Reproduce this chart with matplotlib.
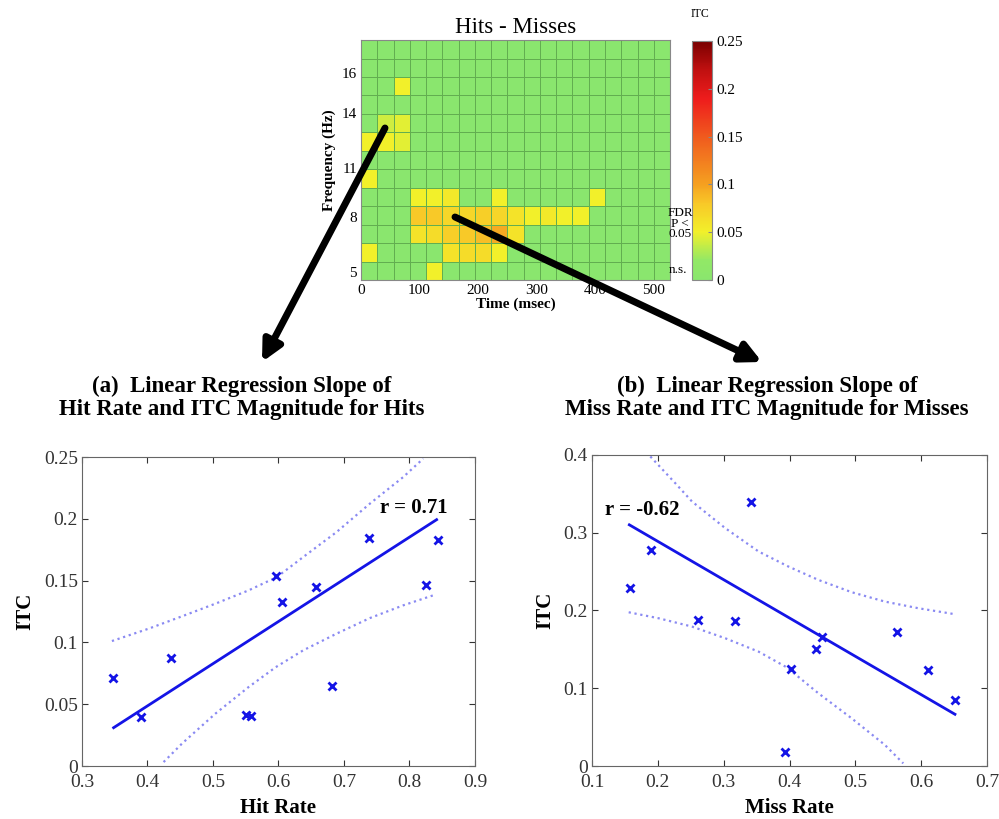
import numpy as np
import matplotlib
matplotlib.use('Agg')
import matplotlib.pyplot as plt
from matplotlib.colors import LinearSegmentedColormap

plt.rcParams['font.family'] = ['Liberation Serif', 'DejaVu Serif']

# ---- data ----
# Hits - Misses ITC map, rows from top (high freq) to bottom (low freq), 19 time bins
itc_map = np.array([
    [0, 0, 0, 0, 0, 0, 0, 0, 0, 0, 0, 0, 0, 0, 0, 0, 0, 0, 0],
    [0, 0, 0, 0, 0, 0, 0, 0, 0, 0, 0, 0, 0, 0, 0, 0, 0, 0, 0],
    [0, 0, .05, 0, 0, 0, 0, 0, 0, 0, 0, 0, 0, 0, 0, 0, 0, 0, 0],
    [0, 0, 0, 0, 0, 0, 0, 0, 0, 0, 0, 0, 0, 0, 0, 0, 0, 0, 0],
    [0, .04, .045, 0, 0, 0, 0, 0, 0, 0, 0, 0, 0, 0, 0, 0, 0, 0, 0],
    [.05, .05, .045, 0, 0, 0, 0, 0, 0, 0, 0, 0, 0, 0, 0, 0, 0, 0, 0],
    [0, 0, 0, 0, 0, 0, 0, 0, 0, 0, 0, 0, 0, 0, 0, 0, 0, 0, 0],
    [.05, 0, 0, 0, 0, 0, 0, 0, 0, 0, 0, 0, 0, 0, 0, 0, 0, 0, 0],
    [0, 0, 0, .05, .05, .055, 0, 0, .05, 0, 0, 0, 0, 0, .05, 0, 0, 0, 0],
    [0, 0, 0, .08, .08, .07, .07, .075, .07, .06, .05, .055, .05, .05, 0, 0, 0, 0, 0],
    [0, 0, 0, .06, .065, .075, .08, .085, .095, .06, 0, 0, 0, 0, 0, 0, 0, 0, 0],
    [.05, 0, 0, 0, 0, .06, .065, .065, .05, 0, 0, 0, 0, 0, 0, 0, 0, 0, 0],
    [0, 0, 0, 0, .05, 0, 0, 0, 0, 0, 0, 0, 0, 0, 0, 0, 0, 0, 0],
])
time_max = 528
freq_ticks = [0.43, 3.41, 6.07, 9.05, 11.2]
freq_labels = ['5', '8', '11', '14', '16']
time_ticks = [0, 100, 200, 300, 400, 500]
cbar_ticks = [0, 0.05, 0.1, 0.15, 0.2, 0.25]
cbar_labels = ['0', '0.05', '0.1', '0.15', '0.2', '0.25']

# (a) hits
hit_rate = [0.348, 0.390, 0.436, 0.550, 0.558, 0.597, 0.606, 0.658, 0.682, 0.738, 0.826, 0.843]
itc_hits = [0.0715, 0.0394, 0.0877, 0.0413, 0.0405, 0.1539, 0.1323, 0.145, 0.0651, 0.1841, 0.1463, 0.1828]
fit_a_x = [0.3484, 0.8415]
fit_a_y = [0.031, 0.1993]
up_a_x = [0.3458, 0.4018, 0.4527, 0.5036, 0.5545, 0.5978, 0.6379, 0.6888, 0.7397, 0.7906, 0.8211]
up_a_y = [0.1011, 0.1111, 0.1211, 0.1313, 0.1421, 0.1529, 0.1691, 0.1893, 0.2123, 0.2338, 0.2487]
lo_a_x = [0.4247, 0.4527, 0.5036, 0.5545, 0.5960, 0.6379, 0.6888, 0.7397, 0.7906, 0.8364]
lo_a_y = [0.0032, 0.0181, 0.0423, 0.0639, 0.0800, 0.0936, 0.1071, 0.1197, 0.1300, 0.1381]

# (b) misses
miss_rate = [0.157, 0.189, 0.2605, 0.3167, 0.341, 0.3937, 0.4023, 0.4408, 0.4494, 0.5633, 0.6099, 0.6519]
itc_miss = [0.2289, 0.277, 0.1874, 0.1865, 0.3391, 0.0184, 0.1248, 0.1509, 0.1659, 0.1719, 0.123, 0.0849]
fit_b_x = [0.1567, 0.6513]
fit_b_y = [0.310, 0.0665]
up_b_x = [0.1886, 0.2265, 0.2518, 0.3024, 0.353, 0.398, 0.4438, 0.4944, 0.545, 0.5956, 0.6513]
up_b_y = [0.3978, 0.3635, 0.340, 0.3057, 0.2757, 0.2565, 0.2392, 0.2234, 0.2113, 0.2028, 0.1951]
lo_b_x = [0.1557, 0.2012, 0.2518, 0.3024, 0.353, 0.396, 0.4438, 0.4944, 0.545, 0.5728]
lo_b_y = [0.1976, 0.1899, 0.1792, 0.1642, 0.147, 0.1267, 0.0935, 0.0613, 0.027, 0.0034]

fig = plt.figure(figsize=(9.99, 8.19), dpi=100)

# ---- heatmap ----
cmap = LinearSegmentedColormap.from_list('itc', [
    (0.0, '#8AE66E'), (0.08, '#92E866'), (0.2, '#F2F02A'), (0.32, '#F8C828'),
    (0.4, '#F5A020'), (0.6, '#F05A1E'), (0.76, '#EE1C1C'), (0.88, '#C01010'),
    (1.0, '#7A0000')])
hm = fig.add_axes([0.3614, 0.6581, 0.3093, 0.2930])
nrows, ncols = itc_map.shape
xe = np.linspace(0, time_max, ncols + 1)
ye = np.arange(nrows + 1)
mesh = hm.pcolormesh(xe, ye, itc_map[::-1], cmap=cmap, vmin=0, vmax=0.25,
                     edgecolors='#62AE50', linewidth=0.7)
hm.set_xlim(0, time_max)
hm.set_ylim(0, nrows)
hm.set_xticks(time_ticks)
hm.set_yticks(freq_ticks)
hm.set_yticklabels(freq_labels)
hm.tick_params(length=0, labelsize=11, pad=3)
for s in hm.spines.values():
    s.set_color('#888888')
hm.set_xlabel('Time (msec)', fontsize=11, fontweight='bold', labelpad=0)
hm.set_ylabel('Frequency (Hz)', fontsize=11, fontweight='bold', labelpad=4)
hm.set_title('Hits - Misses', fontsize=16.5, pad=5)

cax = fig.add_axes([0.6927, 0.6581, 0.020, 0.2918])
cb = fig.colorbar(mesh, cax=cax, ticks=cbar_ticks)
cb.ax.set_yticklabels(cbar_labels)
cb.ax.tick_params(labelsize=11, length=3, direction='in', color='#888888')
cb.outline.set_edgecolor('#888888')
fig.text(0.7007, 0.983, 'ITC', fontsize=8.5, ha='center', va='center')
fig.text(0.681, 0.727, 'FDR\nP <\n0.05', fontsize=9.5, ha='center', va='center', linespacing=0.85)
fig.text(0.679, 0.670, 'n.s.', fontsize=9.5, ha='center', va='center')

# ---- scatter panels ----
def style(ax):
    ax.tick_params(direction='in', top=True, right=True, labelsize=14,
                   colors='#333333', length=4)
    ax.tick_params(axis='x', pad=6)
    ax.tick_params(axis='y', pad=3)
    for s in ax.spines.values():
        s.set_color('#666666')

blue = '#1414E6'
band = '#8A8AF2'

ax1 = fig.add_axes([0.082, 0.0647, 0.3934, 0.3773])
ax1.plot(up_a_x, up_a_y, ':', color=band, lw=1.6)
ax1.plot(lo_a_x, lo_a_y, ':', color=band, lw=1.6)
ax1.plot(fit_a_x, fit_a_y, '-', color=blue, lw=2)
ax1.plot(hit_rate, itc_hits, 'x', color=blue, ms=5.5, mew=2)
ax1.set_xlim(0.3, 0.9)
ax1.set_ylim(0, 0.25)
ax1.set_xticks([0.3, 0.4, 0.5, 0.6, 0.7, 0.8, 0.9])
ax1.set_xticklabels(['0.3', '0.4', '0.5', '0.6', '0.7', '0.8', '0.9'])
ax1.set_yticks([0, 0.05, 0.1, 0.15, 0.2, 0.25])
ax1.set_yticklabels(['0', '0.05', '0.1', '0.15', '0.2', '0.25'])
style(ax1)
ax1.set_xlabel('Hit Rate', fontsize=15, fontweight='bold', labelpad=5)
ax1.set_ylabel('ITC', fontsize=15, fontweight='bold', labelpad=6)
ax1.text(0.755, 0.2087, 'r = 0.71', fontsize=15, fontweight='bold', va='center')

ax2 = fig.add_axes([0.5926, 0.0647, 0.3954, 0.380])
ax2.plot(up_b_x, up_b_y, ':', color=band, lw=1.6)
ax2.plot(lo_b_x, lo_b_y, ':', color=band, lw=1.6)
ax2.plot(fit_b_x, fit_b_y, '-', color=blue, lw=2)
ax2.plot(miss_rate, itc_miss, 'x', color=blue, ms=5.5, mew=2)
ax2.set_xlim(0.1, 0.7)
ax2.set_ylim(0, 0.4)
ax2.set_xticks([0.1, 0.2, 0.3, 0.4, 0.5, 0.6, 0.7])
ax2.set_xticklabels(['0.1', '0.2', '0.3', '0.4', '0.5', '0.6', '0.7'])
ax2.set_yticks([0, 0.1, 0.2, 0.3, 0.4])
ax2.set_yticklabels(['0', '0.1', '0.2', '0.3', '0.4'])
style(ax2)
ax2.set_xlabel('Miss Rate', fontsize=15, fontweight='bold', labelpad=5)
ax2.set_ylabel('ITC', fontsize=15, fontweight='bold', labelpad=6)
ax2.text(0.12, 0.329, 'r = -0.62', fontsize=15, fontweight='bold', va='center')

fig.text(0.242, 0.514, '(a)  Linear Regression Slope of\nHit Rate and ITC Magnitude for Hits',
         fontsize=16.5, fontweight='bold', ha='center', va='center', linespacing=1.1)
fig.text(0.768, 0.514, '(b)  Linear Regression Slope of\nMiss Rate and ITC Magnitude for Misses',
         fontsize=16.5, fontweight='bold', ha='center', va='center', linespacing=1.1)

# ---- arrows from the heatmap to the panels ----
arrow = dict(arrowstyle='-|>', lw=5, color='black', mutation_scale=30, shrinkA=0, shrinkB=0)
fig.add_artist(plt.matplotlib.text.Annotation('', xy=(262, 457), xytext=(385, 691),
                                              xycoords='figure pixels', arrowprops=arrow))
fig.add_artist(plt.matplotlib.text.Annotation('', xy=(762, 457), xytext=(455, 602),
                                              xycoords='figure pixels', arrowprops=arrow))

fig.savefig('out.png', dpi=100)
